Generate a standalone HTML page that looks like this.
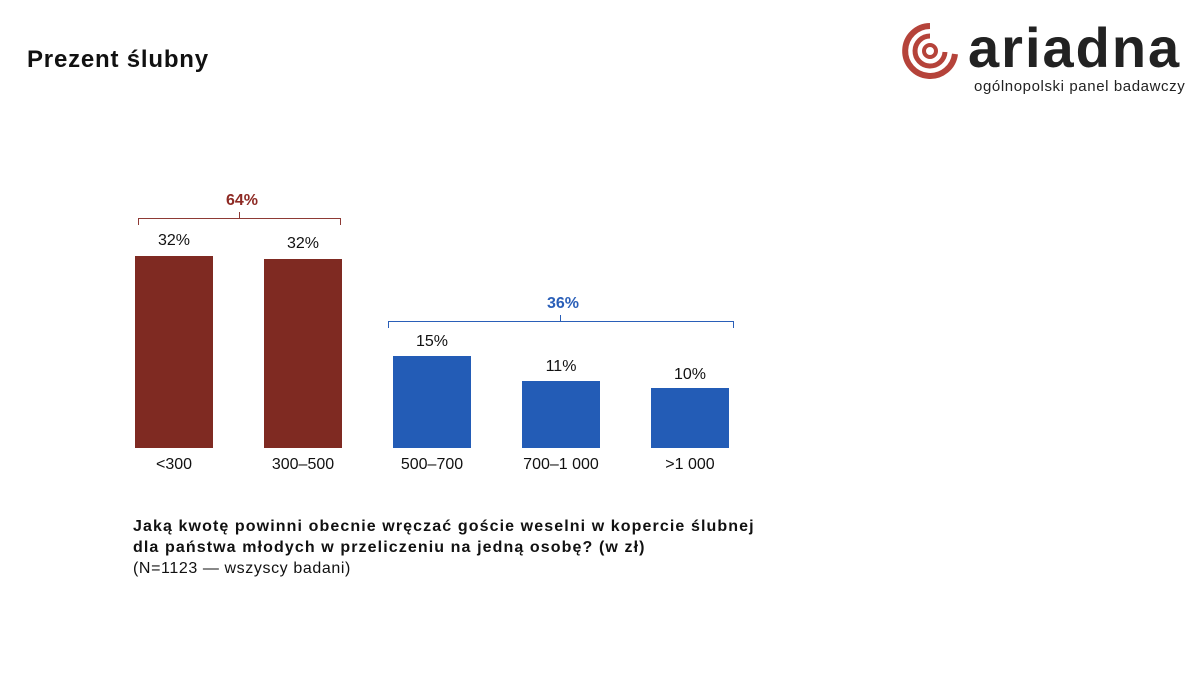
<!DOCTYPE html>
<html><head><meta charset="utf-8"><style>
body{margin:0;width:1204px;height:674px;background:#fff;position:relative;overflow:hidden;font-family:"Liberation Sans","DejaVu Sans",sans-serif;}
.a{position:absolute;}
.bar{position:absolute;width:78px;}
.lbl{position:absolute;width:120px;text-align:center;font-size:16px;color:#111;}
</style></head><body>
<div class="a" style="left:27px;top:46px;font-size:24px;font-weight:bold;color:#111;letter-spacing:0.8px">Prezent ślubny</div>

<svg class="a" style="left:900px;top:18px" width="70" height="62" viewBox="0 0 70 62">
<path d="M30 8 A25 25 0 1 0 55 36" fill="none" stroke="#b5433a" stroke-width="6"/>
<path d="M30 18 A15 15 0 1 0 45 34" fill="none" stroke="#b5433a" stroke-width="5"/>
<circle cx="30" cy="33" r="6" fill="none" stroke="#b5433a" stroke-width="4"/>
</svg>
<div class="a" style="left:968px;top:16px;font-size:56px;font-weight:bold;color:#222;letter-spacing:2px;line-height:64px">ariadna</div>
<div class="a" style="left:974px;top:78px;font-size:15px;color:#222;letter-spacing:0.6px">ogólnopolski panel badawczy</div>

<svg class="a" style="left:0;top:0" width="1204" height="674">
<path d="M138.5 225 V218.5 H340.5 V225 M239.5 218.5 V212" fill="none" stroke="#8e3a35" stroke-width="1"/>
<path d="M388.5 328 V321.5 H733.5 V328 M560.5 321.5 V315" fill="none" stroke="#2a5fb8" stroke-width="1"/>
</svg>
<div class="lbl" style="left:182px;top:192px;color:#8e2a24;font-weight:bold">64%</div>
<div class="lbl" style="left:503px;top:295px;color:#2a5fb8;font-weight:bold">36%</div>

<div class="bar" style="left:135px;top:256px;height:192px;background:#7f2a22"></div>
<div class="bar" style="left:264px;top:259px;height:189px;background:#7f2a22"></div>
<div class="bar" style="left:393px;top:356px;height:92px;background:#235cb6"></div>
<div class="bar" style="left:522px;top:381px;height:67px;background:#235cb6"></div>
<div class="bar" style="left:651px;top:388px;height:60px;background:#235cb6"></div>

<div class="lbl" style="left:114px;top:232px">32%</div>
<div class="lbl" style="left:243px;top:235px">32%</div>
<div class="lbl" style="left:372px;top:333px">15%</div>
<div class="lbl" style="left:501px;top:358px">11%</div>
<div class="lbl" style="left:630px;top:366px">10%</div>

<div class="lbl" style="left:114px;top:456px">&lt;300</div>
<div class="lbl" style="left:243px;top:456px">300–500</div>
<div class="lbl" style="left:372px;top:456px">500–700</div>
<div class="lbl" style="left:501px;top:456px">700–1 000</div>
<div class="lbl" style="left:630px;top:456px">&gt;1 000</div>

<div class="a" style="left:133px;top:516px;font-size:16px;line-height:21px;color:#111;letter-spacing:1.1px">
<b>Jaką kwotę powinni obecnie wręczać goście weselni w kopercie ślubnej<br>dla państwa młodych w przeliczeniu na jedną osobę? (w zł)</b><br><span style="letter-spacing:0.6px">(N=1123 — wszyscy badani)</span></div>
</body></html>
